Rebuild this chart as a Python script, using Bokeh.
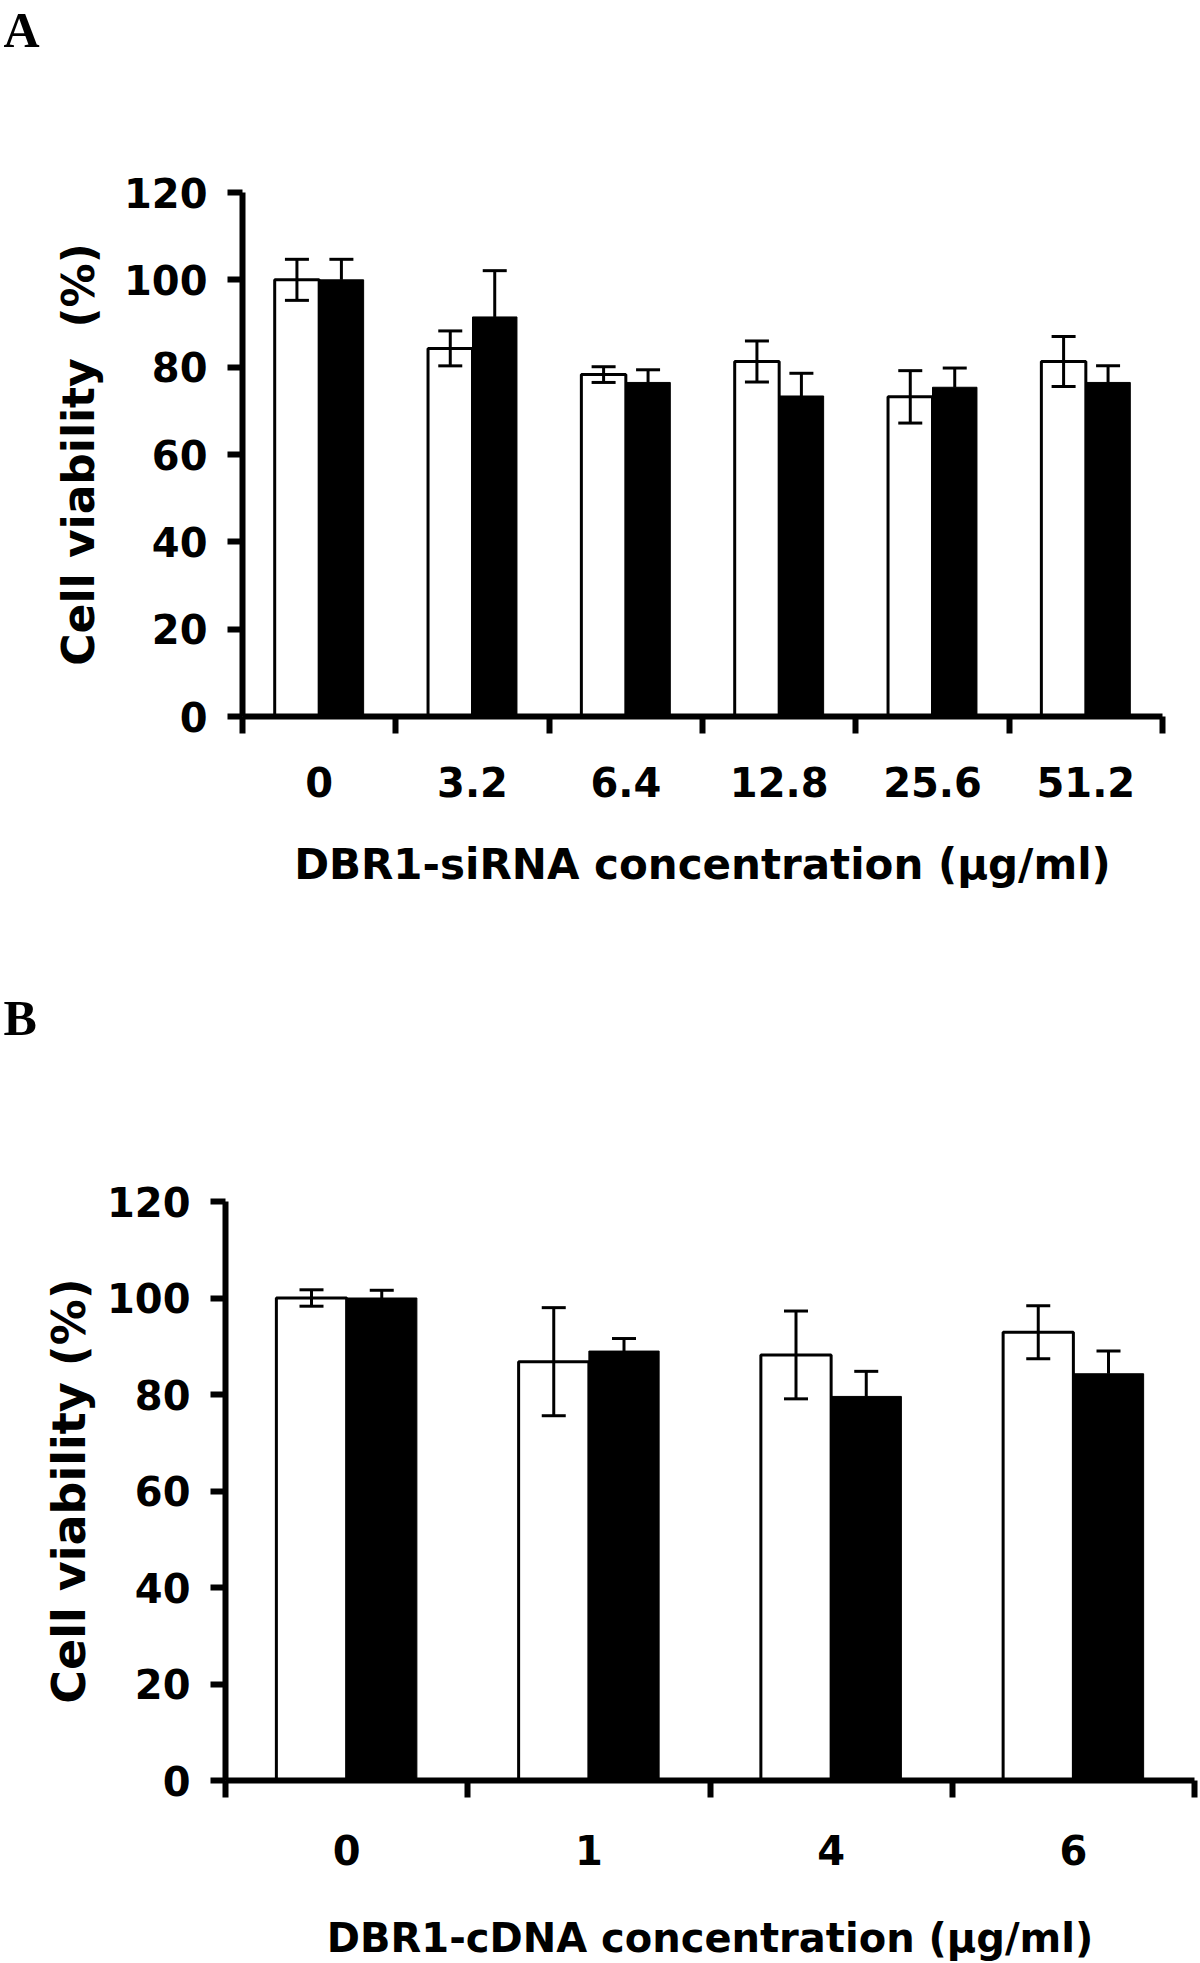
import numpy as np
from bokeh.plotting import figure
from bokeh.models import (ColumnDataSource, FixedTicker, Whisker, TeeHead, Range1d)
from bokeh.core.properties import value
from bokeh.layouts import column
from bokeh.embed import file_html
from bokeh.resources import INLINE

# ---------------- data ----------------
a_categories = ["0", "3.2", "6.4", "12.8", "25.6", "51.2"]
a_open = [100.0, 84.3, 78.3, 81.3, 73.2, 81.3]
a_open_err = [4.7, 4.0, 1.8, 4.7, 6.0, 5.7]
a_solid = [100.0, 91.5, 76.5, 73.4, 75.4, 76.5]
a_solid_err = [4.7, 10.6, 2.9, 5.2, 4.4, 3.8]

b_categories = ["0", "1", "4", "6"]
b_open = [100.0, 86.8, 88.2, 92.9]
b_open_err = [1.7, 11.2, 9.1, 5.5]
b_solid = [100.0, 89.0, 79.6, 84.3]
b_solid_err = [1.6, 2.6, 5.2, 4.7]

y_ticks = [0, 20, 40, 60, 80, 100, 120]
panel_letters = ["A", "B"]

FONT = "DejaVu Sans"


def letter_strip(letter, height, baseline):
    s = figure(width=1200, height=height, output_backend="svg", toolbar_location=None,
               x_range=Range1d(0, 1200), y_range=Range1d(height, 0),
               x_axis_location=None, y_axis_location=None,
               min_border=0, frame_align=False)
    s.xgrid.visible = False
    s.ygrid.visible = False
    s.outline_line_color = None
    s.background_fill_color = "white"
    s.border_fill_color = "white"
    s.text(x=[3], y=[baseline], text=[letter], text_baseline="alphabetic",
           text_align="left", text_font=value("Liberation Serif"),
           text_font_style="bold", text_font_size=value("50px"), text_color="black")
    return s


def make_panel(cats, open_v, open_e, solid_v, solid_e, xlabel, ylabel,
               width, height, left, right, top, bottom, xlab_size, ylab_size,
               tick_standoff, xlab_standoff, ylab_standoff):
    n = len(cats)
    idx = np.arange(1, n + 1)
    w = 0.29
    p = figure(width=width, height=height, output_backend="svg", toolbar_location=None,
               x_range=Range1d(0.5, n + 0.5), y_range=Range1d(0, 120),
               min_border_left=left, min_border_right=right,
               min_border_top=top, min_border_bottom=bottom,
               frame_align=False)
    p.xgrid.visible = False
    p.ygrid.visible = False
    p.outline_line_color = None
    p.background_fill_color = "white"
    p.border_fill_color = "white"

    ov = np.array(open_v); oe = np.array(open_e)
    sv = np.array(solid_v); se = np.array(solid_e)
    src = ColumnDataSource(dict(xo=idx - w / 2, xs=idx + w / 2, ov=ov, sv=sv,
                                olo=ov - oe, ohi=ov + oe, slo=sv, shi=sv + se))
    p.vbar(x="xo", top="ov", bottom=0, width=w, source=src,
           fill_color="white", line_color="black", line_width=3)
    p.vbar(x="xs", top="sv", bottom=0, width=w, source=src,
           fill_color="black", line_color="black", line_width=1)

    wo = Whisker(source=src, base="xo", lower="olo", upper="ohi", line_width=3,
                 line_color="black", level="annotation",
                 upper_head=TeeHead(size=24, line_width=3, line_color="black"),
                 lower_head=TeeHead(size=24, line_width=3, line_color="black"))
    ws = Whisker(source=src, base="xs", lower="slo", upper="shi", line_width=3,
                 line_color="black", level="annotation",
                 upper_head=TeeHead(size=24, line_width=3, line_color="black"),
                 lower_head=None)
    p.add_layout(wo)
    p.add_layout(ws)

    xa = p.xaxis[0]
    xa.ticker = FixedTicker(ticks=[int(i) for i in idx],
                            minor_ticks=[float(i) + 0.5 for i in range(n + 1)])
    xa.major_label_overrides = {int(i): c for i, c in zip(idx, cats)}
    xa.major_tick_out = 0
    xa.major_tick_in = 0
    xa.major_tick_line_color = None
    xa.minor_tick_out = 17
    xa.minor_tick_in = 0
    xa.minor_tick_line_width = 6
    xa.minor_tick_line_color = "black"
    xa.axis_line_width = 6
    xa.axis_line_color = "black"
    xa.major_label_text_font = FONT
    xa.major_label_text_font_style = "bold"
    xa.major_label_text_font_size = "40px"
    xa.major_label_text_color = "black"
    xa.major_label_standoff = tick_standoff
    xa.axis_label = xlabel
    xa.axis_label_text_font = FONT
    xa.axis_label_text_font_style = "bold"
    xa.axis_label_text_font_size = xlab_size
    xa.axis_label_text_color = "black"
    xa.axis_label_standoff = xlab_standoff

    ya = p.yaxis[0]
    ya.ticker = FixedTicker(ticks=y_ticks)
    ya.major_tick_out = 15
    ya.major_tick_in = 0
    ya.major_tick_line_width = 6
    ya.major_tick_line_color = "black"
    ya.minor_tick_line_color = None
    ya.axis_line_width = 6
    ya.axis_line_color = "black"
    ya.major_label_text_font = FONT
    ya.major_label_text_font_style = "bold"
    ya.major_label_text_font_size = "40px"
    ya.major_label_text_color = "black"
    ya.major_label_standoff = 20
    ya.axis_label = ylabel
    ya.axis_label_text_font = FONT
    ya.axis_label_text_font_style = "bold"
    ya.axis_label_text_font_size = ylab_size
    ya.axis_label_text_color = "black"
    ya.axis_label_standoff = ylab_standoff
    return p


la = letter_strip(panel_letters[0], 60, 29)
pa = make_panel(a_categories, a_open, a_open_err, a_solid, a_solid_err,
                "DBR1-siRNA concentration (\u03bcg/ml)", "Cell viability\u00a0 (%)",
                1200, 915, 242, 38, 132, 259, "42px", "44px", 33, 40, 17)
lb = letter_strip(panel_letters[1], 70, 42)
pb = make_panel(b_categories, b_open, b_open_err, b_solid, b_solid_err,
                "DBR1-cDNA concentration (\u03bcg/ml)", "Cell viability (%)",
                1200, 918, 225, 6, 156, 181, "40px", "46px", 37, 47, 8)

layout = column(la, pa, lb, pb, spacing=0)
open("out.html", "w").write(file_html(layout, INLINE))
